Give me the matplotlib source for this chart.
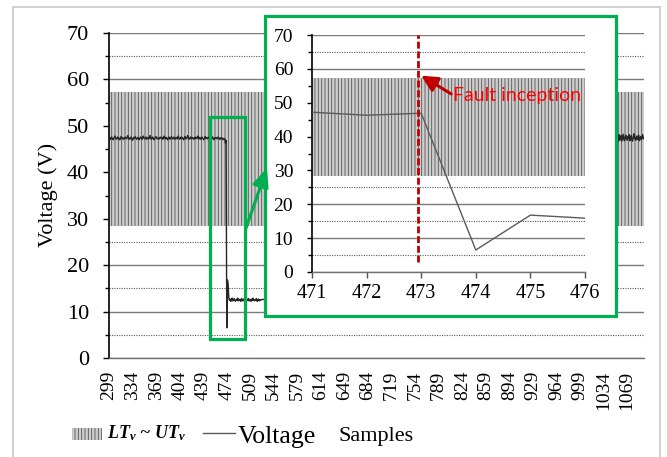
import numpy as np
import matplotlib
matplotlib.use("Agg")
import matplotlib.pyplot as plt
from matplotlib.patches import Rectangle, FancyArrowPatch
from matplotlib.lines import Line2D

plt.rcParams['font.family'] = ['Liberation Serif', 'DejaVu Serif']
plt.rcParams['mathtext.fontset'] = 'custom'
plt.rcParams['mathtext.bf'] = 'Liberation Serif:bold:italic'
plt.rcParams['mathtext.rm'] = 'Liberation Serif'
plt.rcParams['mathtext.it'] = 'Liberation Serif:italic'
plt.rcParams['hatch.linewidth'] = 0.6

# ---------------- data ----------------
x_ticks = list(range(299, 1070, 35))
x_range = [299, 1094]
lt_v = 28.4   # lower threshold
ut_v = 57.3   # upper threshold

pre_start = 299
pre_fault = [
    47.3, 47.5, 47.1, 47.4, 47.6, 47.2, 47.0, 47.3, 47.5, 47.8, 47.4, 47.1, 47.3, 47.6, 47.2, 47.4, 47.0, 47.3, 47.7, 47.5, 47.2, 47.4, 47.1, 47.3, 47.6,
    47.4, 47.2, 47.5, 47.9, 47.3, 47.1, 47.4, 47.2, 47.6, 47.3, 46.9, 47.2, 47.5, 47.3, 47.7, 47.4, 47.1, 47.3, 47.5, 47.2, 47.0, 47.4, 47.6, 47.3, 47.1,
    47.5, 47.8, 47.3, 47.2, 47.4, 47.6, 47.1, 47.3, 47.5, 47.2, 47.4, 47.9, 47.3, 47.1, 47.4, 47.6, 47.2, 47.0, 47.3, 47.5, 47.7, 47.3, 47.2, 47.4, 47.1,
    47.3, 47.6, 47.4, 47.2, 47.5, 47.1, 47.3, 47.8, 47.4, 47.2, 47.5, 47.3, 47.0, 47.4, 47.6, 47.3, 47.1, 47.5, 47.7, 47.3, 47.2, 47.4, 47.6, 47.1, 47.3,
    47.5, 47.2, 47.4, 47.8, 47.3, 47.1, 47.4, 47.6, 47.2, 47.5, 47.3, 47.0, 47.4, 47.7, 47.3, 47.2, 47.5, 47.9, 47.4, 47.1, 47.3, 47.6, 47.2, 47.4, 47.5,
    47.3, 47.1, 47.4, 47.6, 47.2, 47.5, 47.3, 47.8, 47.4, 47.2, 47.5, 47.1, 47.3, 47.6, 47.4, 47.2, 47.0, 47.4, 47.7, 47.3, 47.5, 47.2, 47.4, 47.6, 47.3,
    47.1, 47.4, 47.5, 47.2, 47.6, 47.3, 47.0, 47.4, 47.3, 47.5, 47.2, 47.4, 47.6, 47.3, 47.1, 47.4, 47.2, 47.5, 47.3, 47.0, 47.2, 47.3, 47.2, 46.3, 46.9,
]
fault_start = 474
fault = [
    6.5, 16.8, 15.9, 13.0, 12.4, 12.7, 12.2, 12.6, 12.9, 12.3, 12.5, 12.8, 12.4, 12.2, 12.6, 12.5, 12.9, 12.3, 12.7, 12.4,
    12.6, 12.2, 12.8, 12.5, 12.3, 12.7, 12.4, 12.9, 12.5, 12.2, 12.6, 12.4, 12.8, 12.3, 12.6, 12.5, 12.2, 12.7, 12.4, 12.9,
    12.5, 12.3, 12.6, 12.4, 12.8, 12.2, 12.5, 12.7, 12.3, 12.6, 12.4, 12.5, 12.6,
]
hidden_samples = [1048, 1052]
hidden_values = [12.5, 47.2]
post_start = 1053
post_fault = [
    47.0, 47.8, 46.6, 47.5, 48.1, 46.9, 47.3, 47.9, 46.7, 47.4, 48.2, 47.1, 46.8, 47.6, 48.0, 47.2, 46.9, 47.7, 47.3, 48.1, 46.8,
    47.5, 47.9, 47.0, 46.7, 47.6, 48.3, 47.2, 47.4, 46.9, 47.8, 47.1, 47.5, 48.0, 46.8, 47.3, 47.7, 47.0, 47.6, 48.1, 47.2, 47.4,
]

inset_xlim = [471, 476]
fault_sample = 473
annot_text = "Fault inception"

samples = (list(np.arange(pre_start, pre_start + len(pre_fault))) +
           list(np.arange(fault_start, fault_start + len(fault))) +
           hidden_samples +
           list(np.arange(post_start, post_start + len(post_fault))))
voltage = pre_fault + fault + hidden_values + post_fault

W, H = 667, 457
def fx(x): return x / W
def fy(y): return 1 - y / H

fig = plt.figure(figsize=(W / 100, H / 100), dpi=100)

# outer chart border
fig.add_artist(Rectangle((fx(13), fy(470)), fx(660) - fx(13), fy(7) - fy(470),
                         transform=fig.transFigure, fill=False, edgecolor='#c8c8c8', lw=1.2, zorder=0))

GREEN = '#00B050'
BAND_FC = '#cdcdcd'
BAND_EC = '#555555'
BAND_HATCH = '|||||'

def style_axes(ax, major_len, minor_len, lab_size, ypad):
    ax.set_ylim(0, 70)
    ax.set_yticks(range(0, 71, 10))
    ax.set_yticks(range(5, 70, 10), minor=True)
    ax.set_axisbelow(True)
    ax.yaxis.grid(True, which='major', color='#7a7a7a', lw=1.0)
    ax.yaxis.grid(True, which='minor', color='#5a5a5a', lw=0.8, linestyle=(0, (1, 1.2)))
    ax.tick_params(axis='y', which='major', direction='out', length=major_len, width=1, labelsize=lab_size, pad=ypad)
    ax.tick_params(axis='y', which='minor', direction='out', length=minor_len, width=1)
    for s in ['top', 'right']:
        ax.spines[s].set_visible(False)
    ax.spines['left'].set_color('black')
    ax.spines['left'].set_linewidth(1.2)
    ax.spines['bottom'].set_color('#707070')
    ax.spines['bottom'].set_linewidth(1.0)

# ---------------- main axes ----------------
ax = fig.add_axes([fx(109), fy(358), fx(644) - fx(109), fy(33) - fy(358)])
ax.set_facecolor('none')
style_axes(ax, 4.5, 3, 16, 10)
ax.set_xlim(*x_range)
ax.fill_between(x_range, [lt_v, lt_v], [ut_v, ut_v], facecolor=BAND_FC, edgecolor=BAND_EC,
                hatch=BAND_HATCH, linewidth=0, zorder=1)
ax.plot(samples, voltage, color='#262626', lw=1.0, zorder=3)
ax.set_xticks(x_ticks)
ax.set_xticklabels([str(t) for t in x_ticks], rotation=90, fontsize=14)
ax.tick_params(axis='x', length=0, pad=9)
ax.add_patch(Rectangle((448.7, 4.1), 52.9, 47.8, fill=False, edgecolor=GREEN, lw=2.3,
                       zorder=5, clip_on=False))

fig.text(fx(48), fy(195), 'Voltage (V)', rotation=90, ha='center', va='center', fontsize=16)

# ---------------- inset ----------------
fig.add_artist(Rectangle((fx(265), fy(316)), fx(616) - fx(265), fy(16) - fy(316),
                         transform=fig.transFigure, facecolor='white', edgecolor=GREEN, lw=2.3, zorder=1))
axi = fig.add_axes([fx(312), fy(272), fx(585) - fx(312), fy(35) - fy(272)], zorder=2)
axi.set_facecolor('none')
style_axes(axi, 3.5, 3, 14, 10)
axi.set_xlim(*inset_xlim)
axi.set_xticks(range(inset_xlim[0], inset_xlim[1] + 1))
axi.tick_params(axis='x', direction='out', length=4, width=1, labelsize=14.5, pad=5, color='#505050')
axi.fill_between(inset_xlim, [lt_v, lt_v], [ut_v, ut_v], facecolor=BAND_FC, edgecolor=BAND_EC,
                 hatch=BAND_HATCH, linewidth=0, zorder=1)
axi.plot(samples, voltage, color='#5a5a5a', lw=1.0, zorder=3)
axi.plot([fault_sample - 0.05, fault_sample - 0.05], [3, 70], color='#C00000', lw=2.0,
         dashes=(2.5, 1.0), zorder=4, clip_on=False)
axi.annotate('', xy=(473.0, 58.0), xytext=(473.55, 52.6),
             arrowprops=dict(arrowstyle='-|>,head_length=0.7,head_width=0.35', color='#C00000', lw=2.2,
                             shrinkA=0, shrinkB=0, mutation_scale=14), zorder=5)
fig.text(fx(453), fy(101.5), annot_text, color='#FF0000', fontsize=14, family=['Lato', 'DejaVu Sans'],
         ha='left', va='baseline', zorder=6)

# green arrow
fig.add_artist(FancyArrowPatch((fx(246), fy(228)), (fx(267), fy(168)), transform=fig.transFigure,
                               arrowstyle='-|>,head_length=0.8,head_width=0.35', mutation_scale=14,
                               color=GREEN, lw=2.3, zorder=3, shrinkA=0, shrinkB=0))

# ---------------- legend / x label ----------------
fig.add_artist(Rectangle((fx(72), fy(440)), fx(102) - fx(72), fy(428) - fy(440), transform=fig.transFigure,
                         facecolor=BAND_FC, edgecolor=BAND_EC, hatch=BAND_HATCH, linewidth=0, zorder=2))
fig.text(fx(107), fy(438), r'$\mathbf{LT_v}$ ~ $\mathbf{UT_v}$', fontsize=13, fontweight='bold',
         style='italic', ha='left', va='baseline')
fig.add_artist(Line2D([fx(203), fx(235)], [fy(432.7), fy(432.7)], transform=fig.transFigure,
                      color='#5a5a5a', lw=1.0))
fig.text(fx(238), fy(443), 'Voltage', fontsize=18.5, ha='left', va='baseline')
fig.text(fx(338), fy(441.5), 'Samples', fontsize=16, ha='left', va='baseline')

fig.savefig('out.png', dpi=100)
